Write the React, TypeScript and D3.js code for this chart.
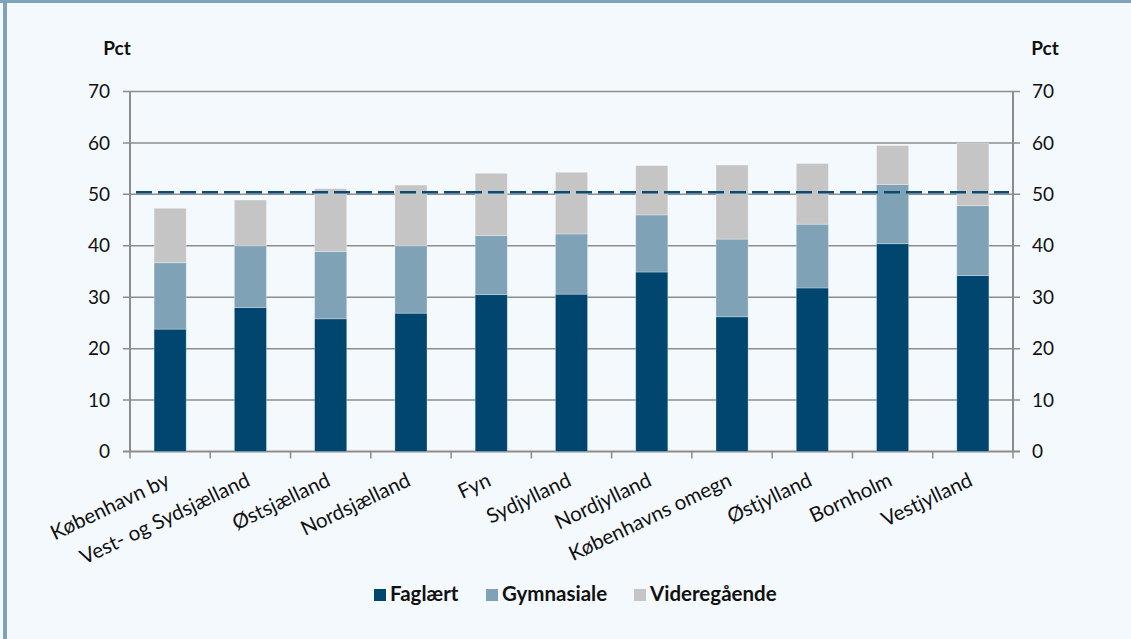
import React from "react";
import * as d3 from "d3";

const categories = [
  "København by",
  "Vest- og Sydsjælland",
  "Østsjælland",
  "Nordsjælland",
  "Fyn",
  "Sydjylland",
  "Nordjylland",
  "Københavns omegn",
  "Østjylland",
  "Bornholm",
  "Vestjylland",
];
const faglaert = [23.8, 28.0, 25.8, 26.9, 30.5, 30.6, 34.9, 26.2, 31.8, 40.4, 34.2];
const gymnasiale = [12.9, 12.0, 13.1, 13.1, 11.5, 11.7, 11.1, 15.1, 12.4, 11.5, 13.6];
const videregaaende = [10.6, 8.9, 12.2, 11.8, 12.1, 12.0, 9.6, 14.4, 11.8, 7.6, 12.2];
const average = 50.4;
const yTicks = [0, 10, 20, 30, 40, 50, 60, 70];
const seriesNames = ["Faglært", "Gymnasiale", "Videregående"];
const colors = ["#00466F", "#7FA2B7", "#C5C5C5"];

const W = 1131;
const H = 639;
const FONT = "Lato, 'Open Sans', sans-serif";

export default function App() {
  const left = 130;
  const right = 1013;
  const x = d3.scaleBand<string>().domain(categories).range([left, right]).paddingInner(0.6).paddingOuter(0.3);
  const y = d3.scaleLinear().domain([0, 70]).range([451.5, 91.5]);
  const step = x.step();

  const rows = categories.map((c, i) => ({
    cat: c,
    s0: faglaert[i],
    s1: gymnasiale[i],
    s2: videregaaende[i],
  }));
  const stack = d3.stack<any>().keys(["s0", "s1", "s2"])(rows);

  const gridColor = "#8C8C8C";

  const legendItems = [
    { name: seriesNames[0], sx: 374, tx: 390 },
    { name: seriesNames[1], sx: 486, tx: 502 },
    { name: seriesNames[2], sx: 634, tx: 650 },
  ];

  return (
    <svg
      width={W}
      height={H}
      style={{ position: "absolute", left: 0, top: 0, display: "block" }}
      fontFamily={FONT}
    >
      <rect x={0} y={0} width={W} height={H} fill="#F4F9FD" />
      <rect x={0} y={0} width={W} height={3} fill="#7FA3B8" />
      <rect x={3} y={0} width={4} height={H} fill="#7FA3B8" />

      {/* gridlines with ticks both sides */}
      {yTicks.map((t) => (
        <line
          key={"g" + t}
          x1={left - 7}
          x2={right + 7}
          y1={y(t)}
          y2={y(t)}
          stroke={gridColor}
          strokeWidth={t === 0 ? 2 : 1.5}
        />
      ))}
      {/* bottom ticks */}
      {d3.range(categories.length + 1).map((i) => (
        <line
          key={"bt" + i}
          x1={left + i * step}
          x2={left + i * step}
          y1={y(0)}
          y2={y(0) + 7}
          stroke={gridColor}
          strokeWidth={1.5}
        />
      ))}

      {/* bars */}
      {stack.map((layer, li) =>
        layer.map((d, i) => (
          <rect
            key={li + "-" + i}
            x={x(categories[i])!}
            y={y(d[1])}
            width={x.bandwidth()}
            height={y(d[0]) - y(d[1])}
            fill={colors[li]}
            stroke="#ffffff"
            strokeOpacity={0.35}
            strokeWidth={0.8}
          />
        ))
      )}

      {/* axes */}
      <line x1={left} x2={left} y1={y(70)} y2={y(0)} stroke={gridColor} strokeWidth={2} />
      <line x1={right} x2={right} y1={y(70)} y2={y(0)} stroke={gridColor} strokeWidth={2} />

      {/* average dashed line */}
      <line
        x1={left + 6}
        x2={right - 4}
        y1={y(average)}
        y2={y(average)}
        stroke="#0B4A72"
        strokeWidth={2.5}
        strokeDasharray="16 6"
      />

      {/* y tick labels */}
      {yTicks.map((t) => (
        <g key={"yl" + t}>
          <text x={left - 20} y={y(t)} dy="0.35em" textAnchor="end" fontSize={19} fill="#111">
            {t}
          </text>
          <text x={right + 19} y={y(t)} dy="0.35em" textAnchor="start" fontSize={19} fill="#111">
            {t}
          </text>
        </g>
      ))}
      <text x={117} y={55} textAnchor="middle" fontSize={19} fontWeight="bold" fill="#111">
        Pct
      </text>
      <text x={1045} y={55} textAnchor="middle" fontSize={19} fontWeight="bold" fill="#111">
        Pct
      </text>

      {/* category labels */}
      {categories.map((c) => (
        <text
          key={"c" + c}
          transform={`translate(${x(c)! + x.bandwidth() / 2 + 1},${485}) rotate(-25.5)`}
          textAnchor="end"
          fontSize={20.5}
          fill="#111"
        >
          {c}
        </text>
      ))}

      {/* legend */}
      {legendItems.map((l, i) => (
        <g key={"l" + i}>
          <rect x={l.sx} y={589} width={12} height={12} fill={colors[i]} />
          <text x={l.tx} y={601} fontSize={20.5} fontWeight="bold" fill="#111">
            {l.name}
          </text>
        </g>
      ))}
    </svg>
  );
}
